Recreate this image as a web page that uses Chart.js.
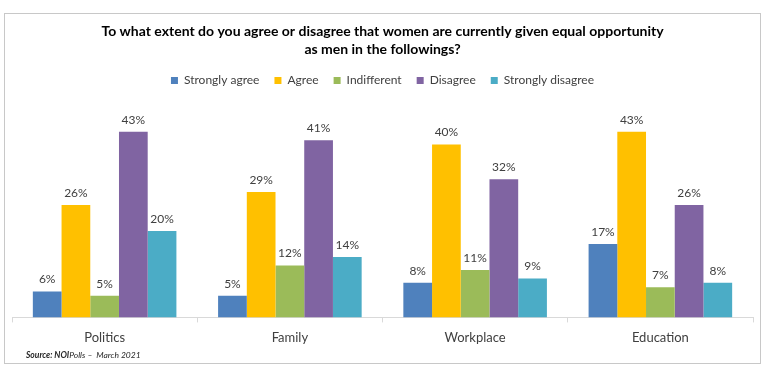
<!DOCTYPE html>
<html>
<head>
<meta charset="utf-8">
<script src="https://cdn.jsdelivr.net/npm/chart.js@4"></script>
<style>
    html, body { margin: 0; padding: 0; background: #fff; }
    #wrap { width: 768px; height: 373px; }
</style>
</head>
<body>
<div id="wrap"><canvas id="chart" width="768" height="373"></canvas></div>
<script>
// Chart data
const categories = ['Politics', 'Family', 'Workplace', 'Education'];
const seriesNames = ['Strongly agree', 'Agree', 'Indifferent', 'Disagree', 'Strongly disagree'];
const stronglyAgree = [6, 5, 8, 17];
const agree = [26, 29, 40, 43];
const indifferent = [5, 12, 11, 7];
const disagree = [43, 41, 32, 26];
const stronglyDisagree = [20, 14, 9, 8];
const seriesColors = ['#4F81BD', '#FFC000', '#9BBB59', '#8064A2', '#4BACC6'];

const FONT = 'Lato, "Open Sans", sans-serif';

// Percent labels above every bar
const valueLabels = {
    id: 'valueLabels',
    afterDatasetsDraw(chart) {
        const ctx = chart.ctx;
        ctx.save();
        ctx.font = '12px ' + FONT;
        ctx.fillStyle = '#404040';
        ctx.textAlign = 'center';
        ctx.textBaseline = 'bottom';
        chart.data.datasets.forEach((ds, i) => {
            chart.getDatasetMeta(i).data.forEach((bar, j) => {
                ctx.fillText(ds.data[j] + '%', bar.x, bar.y - 6);
            });
        });
        ctx.restore();
    }
};

// Extra gap under the legend
const legendGap = {
    id: 'legendGap',
    beforeInit(chart) {
        const fit = chart.legend.fit;
        chart.legend.fit = function () {
            fit.call(this);
            this.height += 5;
        };
    }
};

// Outer frame and source note
const frameAndSource = {
    id: 'frameAndSource',
    afterDraw(chart) {
        const ctx = chart.ctx;
        ctx.save();
        ctx.strokeStyle = '#c8c8c8';
        ctx.lineWidth = 1;
        ctx.strokeRect(4.5, 13.5, 756, 350);

        ctx.fillStyle = '#262626';
        ctx.textBaseline = 'middle';
        let x = 26;
        const y = 355;
        ctx.font = 'italic bold 8.5px ' + FONT;
        ctx.fillText('Source: NOI', x, y);
        x += ctx.measureText('Source: NOI').width;
        ctx.font = 'italic 8.5px ' + FONT;
        ctx.fillText('Polls –  March 2021', x, y);
        ctx.restore();
    }
};

const datasets = [stronglyAgree, agree, indifferent, disagree, stronglyDisagree].map((values, i) => ({
    label: seriesNames[i],
    data: values,
    backgroundColor: seriesColors[i],
    borderWidth: 0,
    categoryPercentage: 0.775,
    barPercentage: 1.0
}));

new Chart(document.getElementById('chart'), {
    type: 'bar',
    data: { labels: categories, datasets: datasets },
    options: {
        responsive: false,
        animation: false,
        layout: { padding: { top: 14, left: 12, right: 15, bottom: 19 } },
        scales: {
            x: {
                grid: {
                    display: true,
                    drawOnChartArea: false,
                    offset: true,
                    tickLength: 5,
                    color: '#d9d9d9'
                },
                border: { color: '#d9d9d9' },
                ticks: {
                    color: '#404040',
                    font: { family: FONT, size: 13 },
                    padding: 8
                }
            },
            y: {
                display: false,
                min: 0,
                max: 50
            }
        },
        plugins: {
            title: {
                display: true,
                text: ['To what extent do you agree or disagree that women are currently given equal opportunity', 'as men in the followings?'],
                color: '#000',
                font: { family: FONT, size: 14, weight: 'bold', lineHeight: 1.3 },
                padding: { top: 8, bottom: 1 }
            },
            legend: {
                display: true,
                labels: {
                    boxWidth: 7,
                    boxHeight: 7,
                    color: '#404040',
                    font: { family: FONT, size: 12 },
                    padding: 15
                }
            },
            tooltip: { enabled: false }
        }
    },
    plugins: [valueLabels, legendGap, frameAndSource]
});
</script>
</body>
</html>
